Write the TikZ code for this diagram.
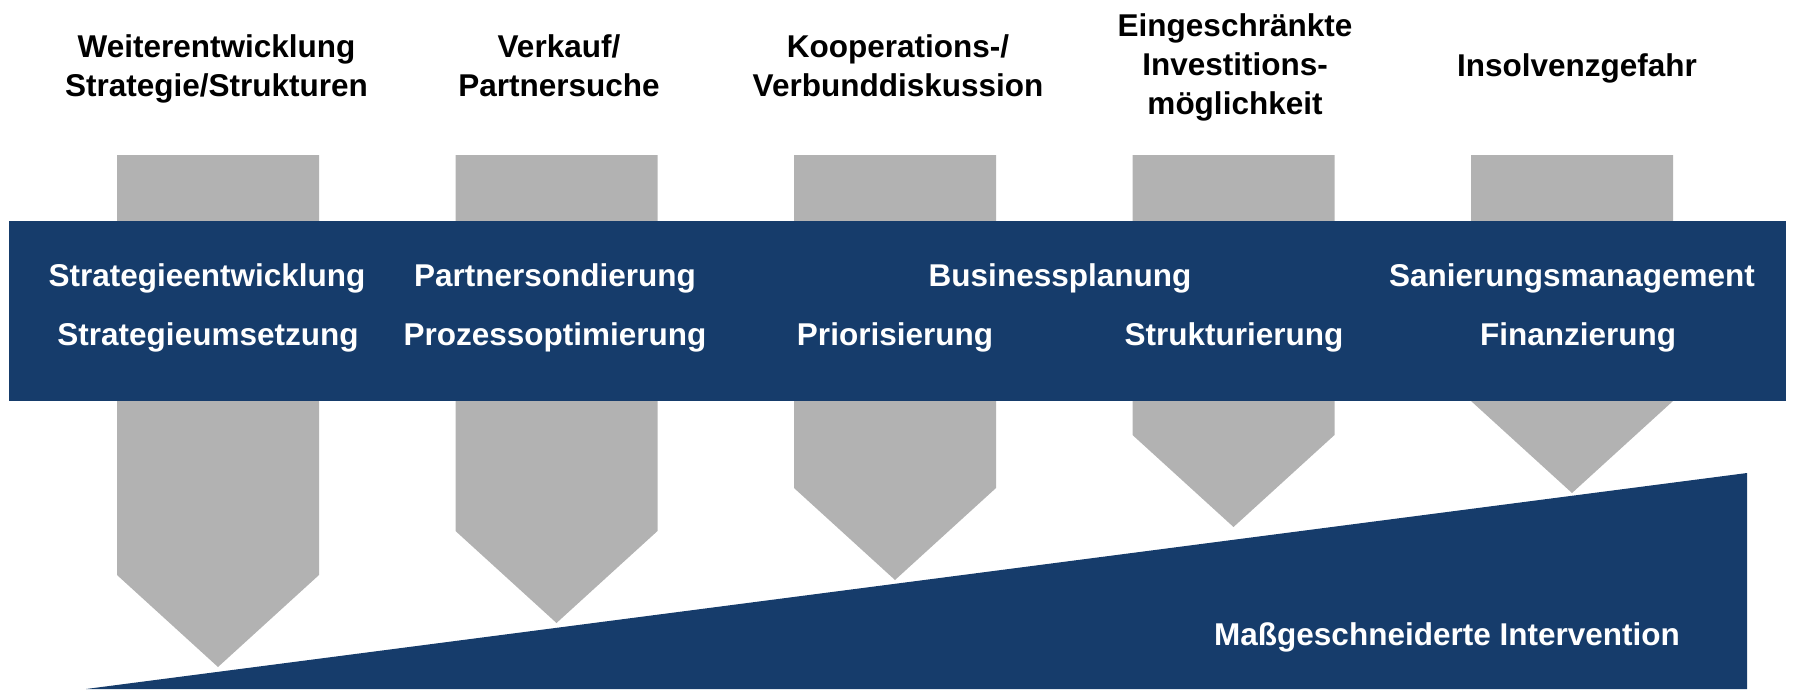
\documentclass[tikz,border=0pt]{standalone}
\usepackage{fontspec}
\setmainfont{Liberation Sans}
\definecolor{bandblue}{HTML}{163C6B}
\definecolor{arrowgray}{HTML}{B2B2B2}
\begin{document}
\begin{tikzpicture}[x=1pt,y=-1pt,
  title/.style={font=\bfseries\fontsize{31.5}{39}\selectfont, align=center, inner sep=0pt, anchor=base, text=black},
  bandtext/.style={font=\bfseries\fontsize{31.5}{39}\selectfont, inner sep=0pt, anchor=base, text=white},
  garrow/.style={fill=arrowgray, draw=none},
  bandfill/.style={fill=bandblue, draw=none}]
\useasboundingbox (0,0) rectangle (1793,689);
% gray arrows
\foreach \cx/\sh in {218/575, 556.5/531, 895/488, 1233.5/435, 1572/401}{
  \fill[garrow] (\cx-101,155) -- (\cx+101,155) -- (\cx+101,\sh) -- (\cx,\sh+92) -- (\cx-101,\sh) -- cycle;
}
% band
\fill[bandfill] (9,221) rectangle (1786,401);
% wedge
\fill[bandfill] (86,689) -- (1747,473) -- (1747,689) -- cycle;
% titles
\node[title] (t1) at (216.5,96) {Weiterentwicklung\\Strategie/Strukturen};
\node[title] (t2) at (559,96) {Verkauf/\\Partnersuche};
\node[title] (t3) at (898,96) {Kooperations-/\\Verbunddiskussion};
\node[title] (t4) at (1235,114) {Eingeschränkte\\Investitions-\\möglichkeit};
\node[title] (t5) at (1577,76) {Insolvenzgefahr};
% band texts
\node[bandtext] (b1) at (207,286) {Strategieentwicklung};
\node[bandtext] (b2) at (208,345) {Strategieumsetzung};
\node[bandtext] (b3) at (555,286) {Partnersondierung};
\node[bandtext] (b4) at (555,345) {Prozessoptimierung};
\node[bandtext] (b5) at (1060,286) {Businessplanung};
\node[bandtext] (b6) at (895,345) {Priorisierung};
\node[bandtext] (b7) at (1234,345) {Strukturierung};
\node[bandtext] (b8) at (1572,286) {Sanierungsmanagement};
\node[bandtext] (b9) at (1578,345) {Finanzierung};
\node[bandtext] (w1) at (1447,645) {Maßgeschneiderte Intervention};
\end{tikzpicture}
\end{document}
